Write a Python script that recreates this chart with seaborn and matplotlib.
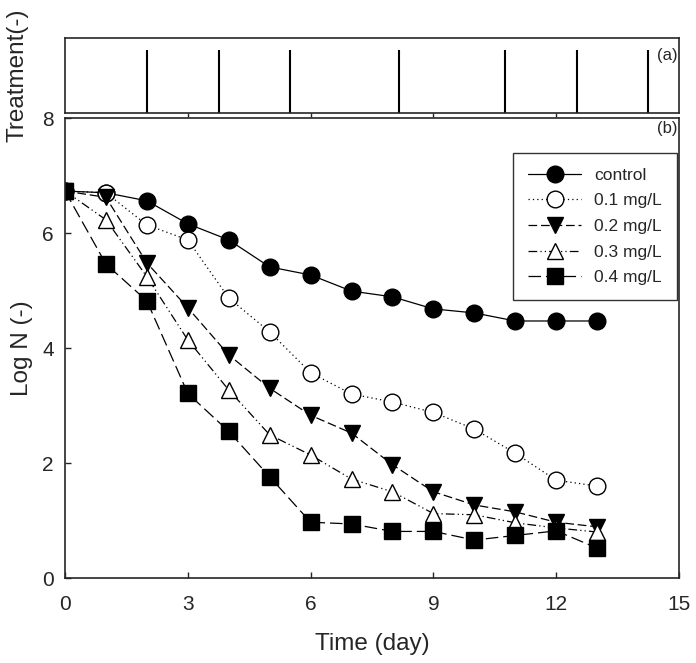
import matplotlib.pyplot as plt
import numpy as np
import pandas as pd
import seaborn as sns

# data
days = list(range(0, 14))
control = [6.73, 6.70, 6.56, 6.16, 5.88, 5.41, 5.27, 4.99, 4.89, 4.68, 4.61, 4.47, 4.47, 4.47]
dose_01 = [6.73, 6.70, 6.14, 5.88, 4.87, 4.28, 3.57, 3.20, 3.06, 2.88, 2.59, 2.17, 1.70, 1.60]
dose_02 = [6.73, 6.62, 5.48, 4.70, 3.88, 3.30, 2.83, 2.52, 1.97, 1.50, 1.27, 1.15, 0.97, 0.89]
dose_03 = [6.73, 6.23, 5.24, 4.14, 3.27, 2.49, 2.14, 1.72, 1.50, 1.12, 1.10, 0.96, 0.87, 0.80]
dose_04 = [6.73, 5.46, 4.82, 3.21, 2.55, 1.76, 0.97, 0.94, 0.81, 0.81, 0.66, 0.74, 0.82, 0.52]
treatment_days = [2.0, 3.75, 5.5, 8.15, 10.75, 12.5, 14.25]
treatment_level = [1, 1, 1, 1, 1, 1, 1]

series = [
    ("control", control, "o", "black", "-"),
    ("0.1 mg/L", dose_01, "o", "white", (0, (1, 2.5))),
    ("0.2 mg/L", dose_02, "v", "black", (0, (7, 3))),
    ("0.3 mg/L", dose_03, "^", "white", (0, (7, 2.5, 1, 2.5, 1, 2.5))),
    ("0.4 mg/L", dose_04, "s", "black", (0, (10, 4))),
]

sns.set_style("ticks")
plt.rcParams['font.family'] = ['Liberation Sans', 'DejaVu Sans']
plt.rcParams['axes.linewidth'] = 1.2

fig = plt.figure(figsize=(6.96, 6.63), dpi=100)
ax_top = fig.add_axes([0.0934, 0.8296, 0.8822, 0.1131])
ax = fig.add_axes([0.0934, 0.1282, 0.8822, 0.6938])

# (a) treatment events
ax_top.vlines(treatment_days, 0, treatment_level, color="black", lw=1.5)
ax_top.set_xlim(0, 15)
ax_top.set_ylim(0, 1.19)
ax_top.set_yticks([])
ax_top.set_xticks([3, 6, 9, 12])
ax_top.set_xticklabels([])
ax_top.tick_params(axis="x", direction="out", length=3, width=1)
ax_top.set_ylabel("Treatment(-)", fontsize=17.5)
ax_top.yaxis.set_label_coords(-0.060, 0.5)
ax_top.text(0.997, 0.76, "(a)", transform=ax_top.transAxes, ha="right", va="center", fontsize=12)

# (b) survival curves
for name, vals, mk, fc, ls in series:
    df = pd.DataFrame({"day": days, "logN": vals})
    sns.lineplot(data=df, x="day", y="logN", ax=ax, color="black", linestyle=ls, lw=0.9,
                 marker=mk, markersize=12, markerfacecolor=fc, markeredgecolor="black",
                 markeredgewidth=1.0, label=name)

ax.set_xlim(0, 15)
ax.set_ylim(0, 8)
ax.set_xticks([0, 3, 6, 9, 12, 15])
ax.set_yticks([0, 2, 4, 6, 8])
ax.tick_params(direction="in", length=4, width=1, labelsize=15)
ax.tick_params(axis="x", pad=12)
ax.tick_params(axis="y", pad=8)
ax.set_xlabel("Time (day)", fontsize=17.5, labelpad=14)
ax.set_ylabel("Log N (-)", fontsize=17.5)
ax.yaxis.set_label_coords(-0.052, 0.5)
ax.text(0.997, 0.978, "(b)", transform=ax.transAxes, ha="right", va="center", fontsize=12)

leg = ax.legend(loc="upper right", bbox_to_anchor=(0.9967, 0.924), borderaxespad=0,
                fontsize=12.5, handlelength=3.1, frameon=True, fancybox=False, borderpad=0.85,
                labelspacing=0.6, handletextpad=0.75)
leg.get_frame().set_edgecolor("black")
leg.get_frame().set_linewidth(1.0)

plt.savefig("out.png", dpi=100)
